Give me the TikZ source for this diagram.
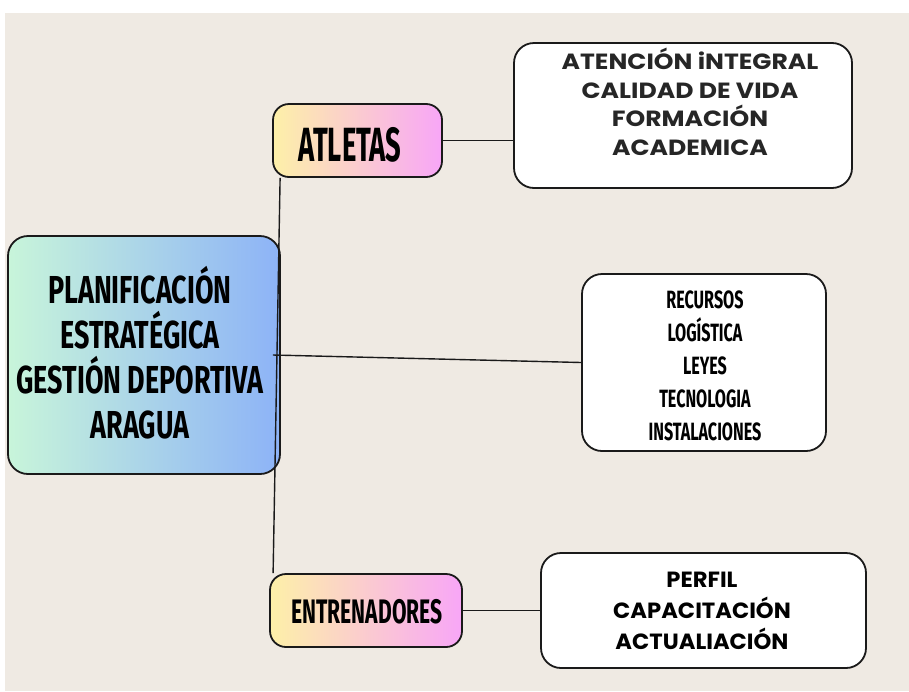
\documentclass[tikz,border=0pt]{standalone}
\usepackage{fontspec}
\setmainfont{Poppins}
\newfontfamily\condmain[FakeStretch=0.69]{Fira Sans}
\newfontfamily\condatl[FakeStretch=0.57]{Fira Sans}
\newfontfamily\condent[FakeStretch=0.62]{Fira Sans}
\newfontfamily\condmid[FakeStretch=0.645]{Fira Sans}
\newfontfamily\geotop[FakeStretch=1.14]{Poppins}
\newfontfamily\geobot[FakeStretch=1.03]{Poppins}
\usetikzlibrary{calc}
\definecolor{paper}{HTML}{EFEAE3}
\definecolor{mintc}{HTML}{C8F5DA}
\definecolor{bluec}{HTML}{8DB3F7}
\definecolor{yelc}{HTML}{FDF0A8}
\definecolor{pinkc}{HTML}{F8A6F7}
\definecolor{edge}{HTML}{1A1A1A}
\definecolor{inkgray}{HTML}{262626}
\tikzset{
  box/.style={draw=edge, line width=1.8pt, rounded corners=20pt, inner sep=0pt},
  whitebox/.style={box, fill=white},
  catbox/.style={box, left color=yelc, right color=pinkc, rounded corners=16pt},
  link/.style={draw=edge, line width=1.4pt},
  condtxt/.style={align=center, text=black},
  geotxt/.style={align=center, text=inkgray},
}
\begin{document}
\begin{tikzpicture}[x=1pt, y=-1pt]
\useasboundingbox (0,0) rectangle (909,691);
\fill[white] (0,0) rectangle (909,691);
\fill[paper] (5,13) rectangle (909,691);

% boxes
\node[box, left color=mintc, right color=bluec, minimum width=272pt, minimum height=238pt] (main) at (144,355) {};
\node[condtxt, font=\condmain\bfseries\fontsize{39}{45}\selectfont] (maintxt) at (140,353) {PLANIFICACIÓN\\ESTRATÉGICA\\GESTIÓN DEPORTIVA\\ARAGUA};

\node[catbox, minimum width=169pt, minimum height=73pt] (atl) at (357.5,140.5) {};
\node[condtxt, font=\condatl\bfseries\fontsize{48}{54}\selectfont] (atltxt) at (350,145) {ATLETAS};

\node[catbox, minimum width=192pt, minimum height=73pt] (ent) at (366,610.5) {};
\node[condtxt, font=\condent\bfseries\fontsize{34}{40}\selectfont] (enttxt) at (367,612) {ENTRENADORES};

\node[whitebox, minimum width=338pt, minimum height=145pt] (top) at (683,115.5) {};
\node[geotxt, font=\geotop\bfseries\fontsize{22}{28.5}\selectfont] (toptxt) at (690,102) {ATENCIÓN iNTEGRAL\\CALIDAD DE VIDA\\FORMACIÓN\\ACADEMICA};

\node[whitebox, minimum width=244pt, minimum height=177pt] (mid) at (704,362.5) {};
\node[condtxt, font=\condmid\bfseries\fontsize{25}{33}\selectfont] (midtxt) at (705,366) {RECURSOS\\LOGÍSTICA\\LEYES\\TECNOLOGIA\\INSTALACIONES};

\node[whitebox, minimum width=325pt, minimum height=115pt] (bot) at (703.5,610.5) {};
\node[geotxt, text=black, font=\geobot\bfseries\fontsize{22}{31}\selectfont] (bottxt) at (702,611) {PERFIL\\CAPACITACIÓN\\ACTUALIACIÓN};

% connectors
\draw[link] ($(atl.south west)+(8,0)$) -- ($(ent.north west)+(4,0)$);
\draw[link] ($(main.east)+(-8,0)$) -- (mid.west);
\draw[link] (atl.east) -- (atl.east -| top.west);
\draw[link] (ent.east) -- (bot.west);
\end{tikzpicture}
\end{document}
